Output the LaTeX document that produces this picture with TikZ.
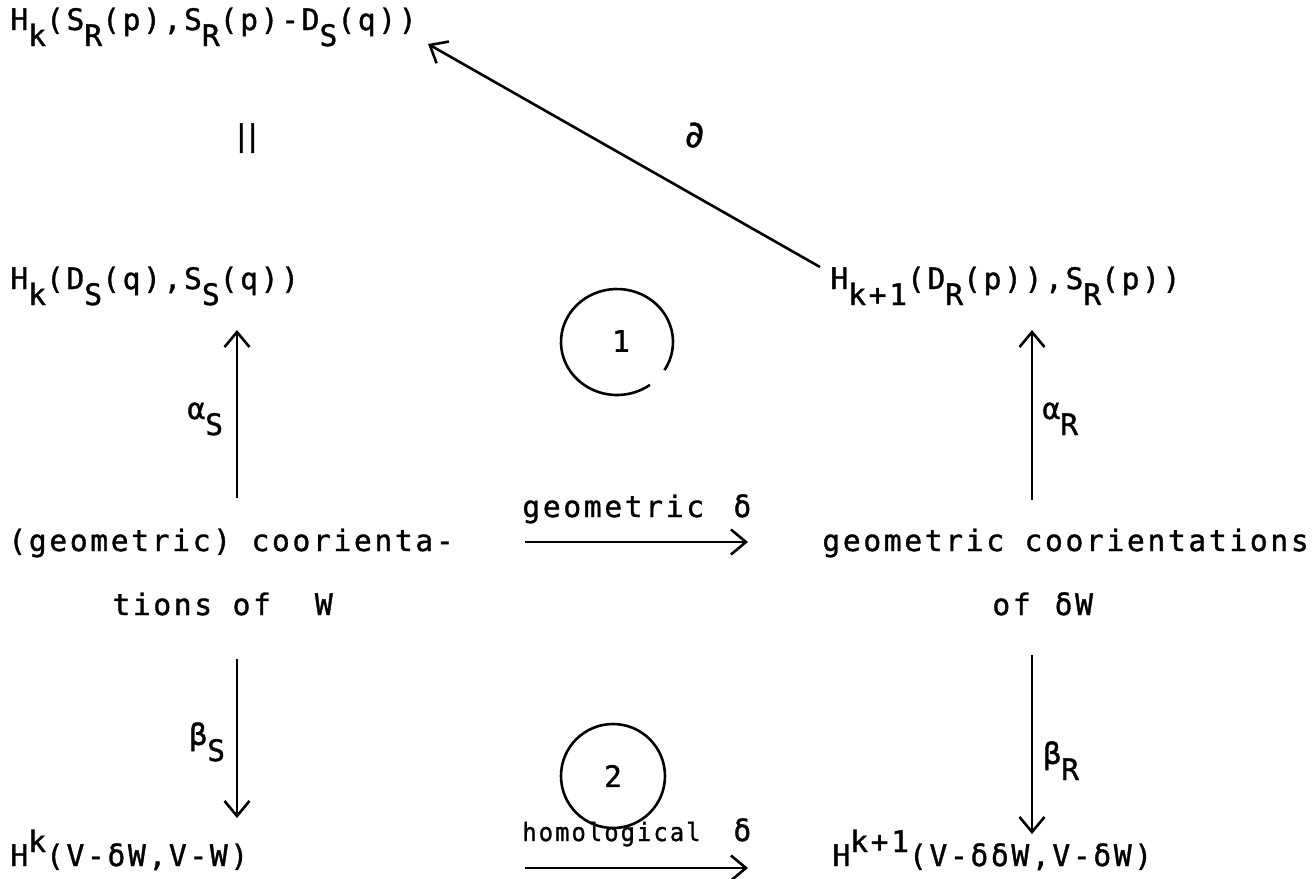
\documentclass[tikz,border=0pt]{standalone}
\usepackage{fontspec}
\usetikzlibrary{arrows.meta}
\newfontfamily\tw[LetterSpace=9,FakeBold=1.2]{DejaVu Sans Mono}
\newcommand\dn[1]{\raisebox{-8pt}{#1}}
\newcommand\upr[1]{\raisebox{7pt}{#1}}
\begin{document}
\begin{tikzpicture}[x=0.5pt,y=-0.5pt,
  lbl/.style={anchor=base west,inner sep=0pt,font={\fontsize{14.8pt}{17pt}\selectfont\tw}},
  arr/.style={line width=1.3pt,-{Straight Barb[length=7.5pt,width=12.5pt]}},
  ring/.style={line width=1.3pt}]
\useasboundingbox[fill=white] (0,0) rectangle (1314,879);
% row 1
\node[lbl] (top) at (10,30) {H\dn{k}(S\dn{R}(p),S\dn{R}(p)-D\dn{S}(q))};
\node[lbl] (eq) at (232,146) {|\hspace{-3.2pt}|};
\node[lbl] (del) at (683,147) {\scalebox{1.25}{∂}};
% row 2
\node[lbl] (hkD) at (10,289) {H\dn{k}(D\dn{S}(q),S\dn{S}(q))};
\node[lbl] (hkR) at (830,289) {H\dn{k+1}(D\dn{R}(p)),S\dn{R}(p))};
\coordinate (dstart) at (820,267);
\coordinate (dend) at (428,44);
\draw[arr] (dstart) -- (dend);
% circle 1
\coordinate (c1) at (617,342);
\node[lbl,anchor=center] (one) at (621,341) {1};
\draw[ring] (c1) ++(-32:28pt and 26.5pt) arc[start angle=-32,end angle=306,x radius=28pt,y radius=26.5pt];
% alpha arrows
\coordinate (aSb) at (237,498); \coordinate (aSt) at (237,330);
\draw[arr] (aSb) -- (aSt);
\node[lbl] (aS) at (187,419) {α\dn{S}};
\coordinate (aRb) at (1032,500); \coordinate (aRt) at (1032,330);
\draw[arr] (aRb) -- (aRt);
\node[lbl] (aR) at (1042,419) {α\dn{R}};
% geometric delta
\node[lbl] (geo) at (522,517) {geometric};
\node[lbl] (gd) at (733,517) {δ};
\coordinate (g1) at (525,542); \coordinate (g2) at (748,542);
\draw[arr] (g1) -- (g2);
% row 3
\node[lbl] (coL) at (8,551) {(geometric) coorienta-};
\node[lbl] (coR) at (822,551) {geometric coorientations};
\node[lbl] (tW) at (112,615) {tions of\hspace{1.5pt}\ \ W};
\node[lbl] (oW) at (992,615) {of\hspace{12pt}δW};
% beta arrows
\coordinate (bSt) at (237,659); \coordinate (bSb) at (237,818);
\draw[arr] (bSt) -- (bSb);
\node[lbl] (bS) at (189,745) {β\dn{S}};
\coordinate (bRt) at (1032,655); \coordinate (bRb) at (1032,834);
\draw[arr] (bRt) -- (bRb);
\node[lbl] (bR) at (1043,764) {β\dn{R}};
% circle 2
\node[ring,draw,circle,minimum size=52pt,inner sep=0pt,font={\fontsize{14.8pt}{17pt}\selectfont\tw}] (c2) at (613,776) {2};
% homological delta
\node[lbl] (hom) at (522,841) {\scalebox{0.8}[0.85]{homological}};
\node[lbl] (hd) at (733,841) {δ};
\coordinate (h1) at (525,868); \coordinate (h2) at (748,868);
\draw[arr] (h1) -- (h2);
% row 4
\node[lbl] (Hk) at (10,866) {H\upr{k}(V-δW,V-W)};
\node[lbl] (Hk1) at (832,866) {H\upr{k+1}(V-δδW,V-δW)};
\end{tikzpicture}
\end{document}
